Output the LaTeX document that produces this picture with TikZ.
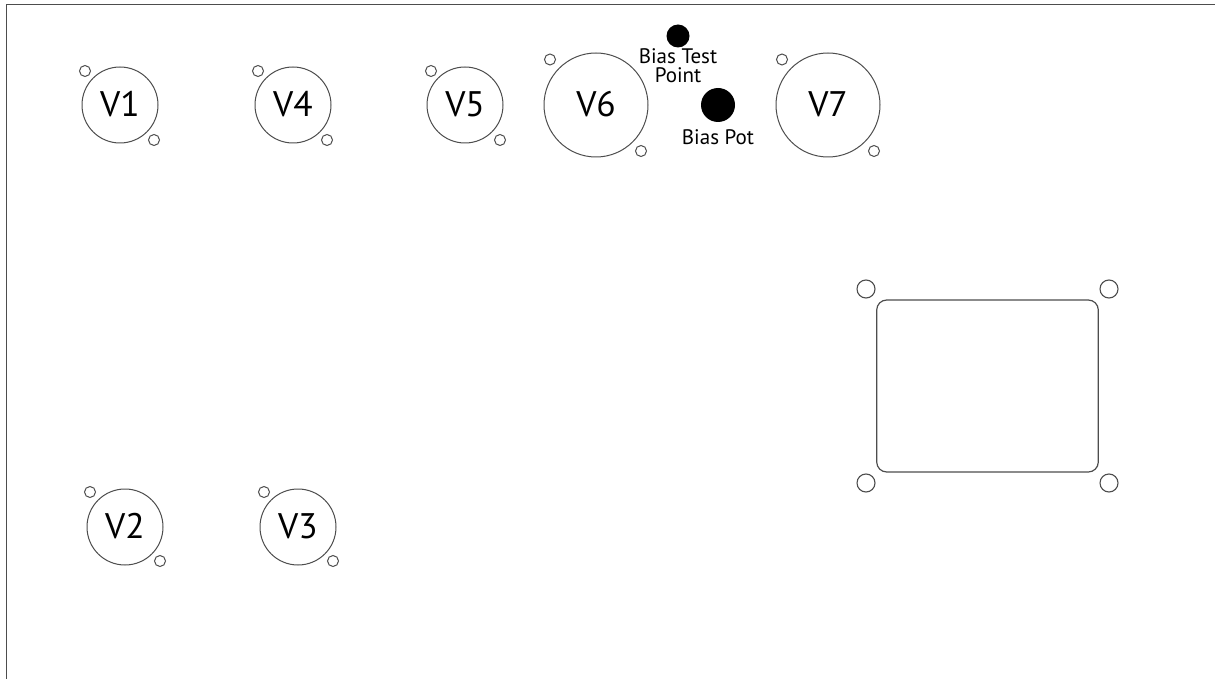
\documentclass[tikz,border=0pt]{standalone}
\usepackage{fontspec}
\setmainfont{PT Sans}
\definecolor{ln}{HTML}{4D4D4D}
\newcommand{\tubelab}[1]{\raisebox{-11.5pt}[0pt][0pt]{#1}}
\tikzset{
  x=1pt,y=-1pt,
  border/.style={draw=ln,line width=1.2pt},
  tube/.style={circle,draw=ln,line width=1pt,inner sep=0pt,font=\fontsize{35.5}{35.5}\selectfont,text=black},
  small/.style={tube,minimum size=76pt},
  big/.style={tube,minimum size=104pt},
  screw/.style={circle,draw=ln,line width=1pt,inner sep=0pt,minimum size=11pt},
  bolt/.style={circle,draw=ln,line width=1.1pt,inner sep=0pt,minimum size=18pt},
  dot/.style={circle,fill=black,inner sep=0pt},
  lab/.style={inner sep=0pt,font=\fontsize{21}{21}\selectfont,text=black},
}
\begin{document}
\begin{tikzpicture}
\useasboundingbox (0,0) rectangle (1215,679);
\coordinate (tr) at (1215,4.4);
\coordinate (tl) at (6.4,4.4);
\coordinate (bl) at (6.4,679);
\draw[border] (tr) -- (tl) -- (bl);
\node[small] (v1) at (120,105) {\tubelab{V1}};
\node[screw] (v1a) at (85,71) {};
\node[screw] (v1b) at (154,140) {};
\node[small] (v4) at (293,105) {\tubelab{V4}};
\node[screw] (v4a) at (258,71) {};
\node[screw] (v4b) at (327,140) {};
\node[small] (v5) at (465,105) {\tubelab{V5}};
\node[screw] (v5a) at (431,71) {};
\node[screw] (v5b) at (500,140) {};
\node[big] (v6) at (596,105) {\tubelab{V6}};
\node[screw] (v6a) at (550,59.5) {};
\node[screw] (v6b) at (641,151) {};
\node[big] (v7) at (828,105) {\tubelab{V7}};
\node[screw] (v7a) at (782,59.5) {};
\node[screw] (v7b) at (874,151) {};
\node[small] (v2) at (125,527) {\tubelab{V2}};
\node[screw] (v2a) at (90,492) {};
\node[screw] (v2b) at (160,561) {};
\node[small] (v3) at (298,527) {\tubelab{V3}};
\node[screw] (v3a) at (264,492) {};
\node[screw] (v3b) at (333,561) {};
\node[dot,minimum size=23pt] (tp) at (678,36) {};
\node[lab] (tpa) at (678,56.5) {Bias Test};
\node[lab] (tpb) at (678,75.5) {Point};
\node[dot,minimum size=34pt] (pot) at (718,105) {};
\node[lab] (potl) at (718,137) {Bias Pot};
\node[draw=ln,line width=1.2pt,rounded corners=10pt,minimum width=221.6pt,minimum height=172pt,inner sep=0pt] (sock) at (987.5,386) {};
\node[bolt] (b1) at (866,289) {};
\node[bolt] (b2) at (1109,289) {};
\node[bolt] (b3) at (866,483) {};
\node[bolt] (b4) at (1109,483) {};
\end{tikzpicture}
\end{document}
